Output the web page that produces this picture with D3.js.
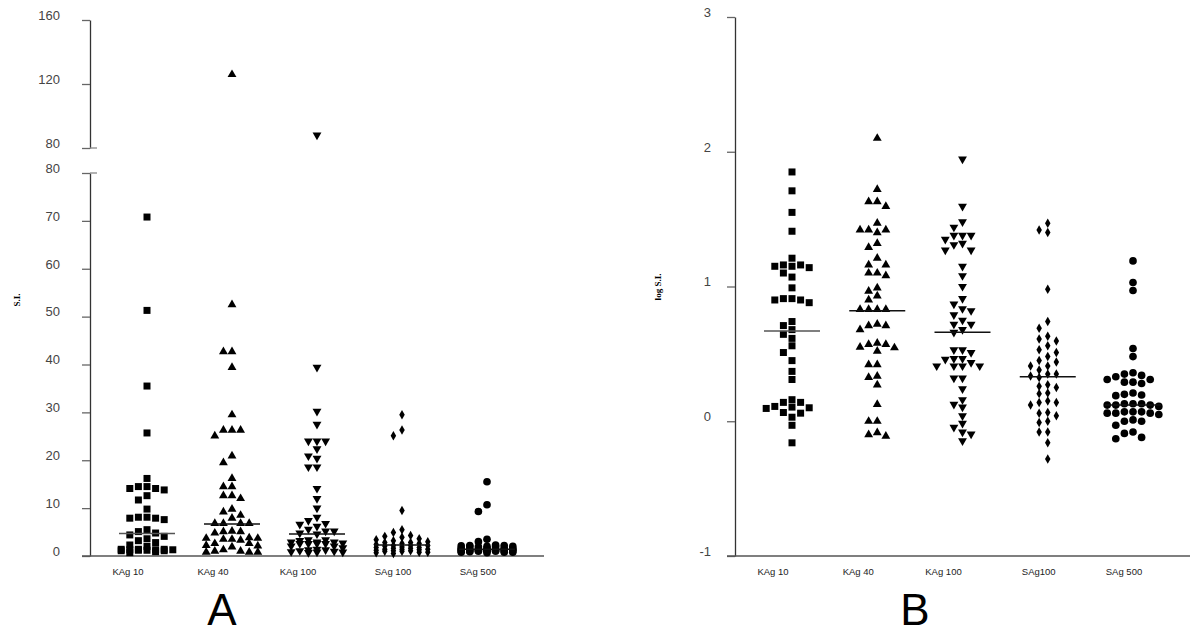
<!DOCTYPE html>
<html>
<head>
<meta charset="utf-8">
<script src="https://cdn.jsdelivr.net/npm/d3@7/dist/d3.min.js"></script>
<style>
  body { margin: 0; background: #fff; }
  svg { display: block; }
  .tick text { font-family: "Liberation Sans", Arial, sans-serif; }
</style>
</head>
<body>
<svg id="chart" width="1200" height="634"></svg>
<script>
// categories and axis labels
const categories = ["KAg 10", "KAg 40", "KAg 100", "SAg 100", "SAg 500"];
const labelsA = ["KAg 10", "KAg 40", "KAg 100", "SAg 100", "SAg 500"];
const labelsB = ["KAg 10", "KAg 40", "KAg 100", "SAg100", "SAg 500"];

// panel A: stimulation index (S.I.)
const siKAg10 = [70.8, 51.3, 35.5, 25.7, 16.2, 14.5, 14.1, 13.8, 14.1, 14.5, 12.6, 11.7, 9.8, 8.1, 7.9, 7.6, 7.9, 8.1,
  5.5, 5.1, 4.8, 4.4, 4.1, 3.6, 3.2, 2.8, 2.3, 2.0, 1.4, 1.4, 1.4, 1.3, 1.3, 1.3, 1.2, 1.2, 1.1, 1.1, 0.9, 0.7];
const siKAg40 = [125.9, 52.5, 42.7, 42.7, 39.4, 29.5, 26.3, 26.3, 25.1, 26.3, 20.9, 19.5, 16.2, 14.5, 14.5, 12.6, 12.0,
  12.6, 9.8, 9.2, 8.5, 7.9, 6.8, 6.8, 6.8, 6.8, 5.1, 4.8, 5.1, 5.2, 3.7, 3.7, 3.5, 3.3, 3.5, 3.8, 2.6, 2.6, 2.2, 2.1,
  1.9, 1.3, 1.0, 1.0, 0.8, 0.8, 0.8];
const siKAg100 = [88.1, 39.4, 30.2, 27.5, 24.0, 24.0, 24.0, 22.4, 20.4, 18.6, 18.6, 20.9, 14.1, 12.0, 10.0, 8.1, 7.4,
  6.6, 6.8, 6.2, 5.6, 5.2, 4.8, 4.6, 5.2, 3.4, 3.4, 3.2, 2.9, 2.9, 2.7, 2.9, 2.6, 2.6, 2.6, 2.6, 2.1, 2.1, 1.7, 1.4,
  1.3, 1.3, 1.1, 1.0, 0.9, 0.8, 0.8, 0.7];
const siSAg100 = [29.5, 25.1, 26.3, 9.5, 5.5, 4.9, 4.3, 4.1, 3.9, 3.6, 3.2, 3.4, 3.0, 2.8, 2.6, 2.8, 2.6, 2.4, 2.2, 2.1,
  2.2, 2.2, 1.8, 1.6, 1.6, 1.8, 1.9, 1.4, 1.3, 1.4, 1.4, 1.2, 1.1, 1.0, 1.1, 1.0, 0.8, 0.8, 0.7, 0.5];
const siSAg500 = [15.5, 10.7, 9.3, 3.5, 3.0, 2.3, 2.2, 2.2, 2.1, 2.0, 1.9, 1.9, 1.9, 2.0, 1.6, 1.5, 1.6, 1.6, 1.3, 1.3,
  1.3, 1.3, 1.3, 1.3, 1.3, 1.2, 1.1, 1.2, 1.1, 1.1, 1.2, 1.1, 1.0, 1.0, 1.0, 0.9, 0.8, 0.8, 0.7, 0.8];
const medianSI = [4.7, 6.7, 4.6, 2.3, 1.4];

// panel B: log S.I.
const logKAg10 = [1.85, 1.71, 1.55, 1.41, 1.21, 1.16, 1.15, 1.14, 1.15, 1.16, 1.10, 1.07, 0.99, 0.91, 0.90, 0.88, 0.90,
  0.91, 0.74, 0.71, 0.68, 0.645, 0.615, 0.56, 0.51, 0.45, 0.37, 0.31, 0.16, 0.14, 0.14, 0.105, 0.10, 0.11, 0.095,
  0.065, 0.06, 0.03, -0.03, -0.16];
const logKAg40 = [2.10, 1.72, 1.63, 1.63, 1.595, 1.47, 1.42, 1.42, 1.40, 1.42, 1.32, 1.29, 1.21, 1.16, 1.16, 1.10, 1.08,
  1.10, 0.99, 0.965, 0.93, 0.90, 0.83, 0.83, 0.83, 0.83, 0.71, 0.68, 0.71, 0.72, 0.57, 0.57, 0.545, 0.52, 0.55, 0.58,
  0.42, 0.42, 0.335, 0.325, 0.27, 0.125, 0.0, 0.0, -0.085, -0.11, -0.10];
const logKAg100 = [1.945, 1.595, 1.48, 1.44, 1.38, 1.38, 1.38, 1.35, 1.31, 1.27, 1.27, 1.32, 1.15, 1.08, 1.00, 0.91,
  0.87, 0.82, 0.835, 0.79, 0.75, 0.72, 0.68, 0.66, 0.72, 0.53, 0.53, 0.51, 0.465, 0.465, 0.435, 0.46, 0.41, 0.41,
  0.41, 0.41, 0.32, 0.32, 0.24, 0.16, 0.125, 0.105, 0.04, -0.015, -0.045, -0.08, -0.095, -0.145];
const logSAg100 = [1.47, 1.40, 1.42, 0.98, 0.74, 0.69, 0.63, 0.61, 0.595, 0.56, 0.51, 0.53, 0.48, 0.45, 0.41, 0.44,
  0.41, 0.38, 0.35, 0.325, 0.335, 0.35, 0.26, 0.21, 0.205, 0.25, 0.27, 0.14, 0.12, 0.14, 0.15, 0.065, 0.04, 0.0,
  0.06, -0.01, -0.08, -0.08, -0.16, -0.28];
const logSAg500 = [1.19, 1.03, 0.97, 0.54, 0.48, 0.36, 0.35, 0.34, 0.33, 0.31, 0.29, 0.28, 0.29, 0.31, 0.20, 0.19,
  0.195, 0.21, 0.13, 0.12, 0.13, 0.12, 0.11, 0.13, 0.12, 0.07, 0.06, 0.07, 0.06, 0.05, 0.07, 0.06, 0.0, 0.0, 0.01,
  -0.03, -0.08, -0.09, -0.13, -0.12];
const medianLog = [0.67, 0.82, 0.66, 0.33, 0.12];

// ticks
const ticksLow = [0, 10, 20, 30, 40, 50, 60, 70, 80];
const ticksHigh = [80, 120, 160];
const ticksLog = [-1, 0, 1, 2, 3];

const seriesSI = [siKAg10, siKAg40, siKAg100, siSAg100, siSAg500];
const seriesLog = [logKAg10, logKAg40, logKAg100, logSAg100, logSAg500];

const symbols = [
  { type: d3.symbolSquare, size: 49, rot: 0 },
  { type: d3.symbolTriangle, size: 34, rot: 0 },
  { type: d3.symbolTriangle, size: 34, rot: 180 },
  { type: d3.symbolDiamond, size: 26, rot: 0 },
  { type: d3.symbolCircle, size: 46, rot: 0 }
];

const svg = d3.select("#chart");
const tickColour = "#666";
const labelColour = "#444";

/**
 * column-style beeswarm: points sit on discrete columns either side of the centre.
 */
var swarm = function(values, yOf, cx, colW, rowH, maxCol) {
  var order = [0];
  for (let k = 1; k <= maxCol; k++) { order.push(-k, k); }
  var placed = [];
  var pts = values.map(v => ({ v: v, y: yOf(v) })).sort((a, b) => a.y - b.y);
  pts.forEach(p => {
    var best = null, bestGap = -1;
    for (const k of order) {
      var gap = d3.min(placed.filter(q => q.k === k), q => Math.abs(q.y - p.y));
      if (gap === undefined) gap = Infinity;
      if (gap >= rowH) { best = k; bestGap = gap; break; }
      if (gap > bestGap) { bestGap = gap; best = k; }
    }
    p.k = best;
    p.x = cx + best * colW;
    placed.push(p);
  });
  return pts;
}

var drawPoints = function(g, series, yOf, xScale, medians) {
  series.forEach((vals, i) => {
    var cx = xScale(categories[i]);
    var sym = symbols[i];
    var pts = swarm(vals, yOf, cx, 8.6, 7.2, 3);
    g.append("g").selectAll("path")
      .data(pts)
      .join("path")
        .attr("d", d3.symbol().type(sym.type).size(sym.size))
        .attr("transform", d => "translate(" + d.x + "," + d.y + ") rotate(" + sym.rot + ")")
        .attr("fill", "#000");
    g.append("line")
      .attr("x1", cx - 28).attr("x2", cx + 28)
      .attr("y1", yOf(medians[i])).attr("y2", yOf(medians[i]))
      .attr("stroke", i === 0 ? "#555" : "#111")
      .attr("stroke-width", 1.5);
  });
}

var styleAxis = function(g) {
  g.select(".domain").attr("stroke", "#333").attr("stroke-width", 1.3);
  g.selectAll(".tick line").attr("stroke", tickColour).attr("stroke-width", 1.3);
  g.selectAll(".tick text").attr("fill", labelColour).attr("font-size", 13).attr("dy", "-0.05em");
}

var drawXLabels = function(g, xScale, labels, y) {
  g.selectAll("text.cat")
    .data(labels)
    .join("text")
      .attr("class", "cat")
      .attr("x", (d, i) => xScale(categories[i]) + (i < 3 ? -19 : -9))
      .attr("y", y)
      .attr("text-anchor", "middle")
      .attr("font-family", "Liberation Sans, Arial, sans-serif")
      .attr("font-size", 9.5)
      .attr("fill", "#222")
      .text(d => d);
}

// ---------- panel A ----------
var gA = svg.append("g");
var yLow = d3.scaleLinear().domain([0, 80]).range([556, 173]);
var yHigh = d3.scaleLinear().domain([80, 160]).range([148, 20]);
var yA = v => v <= 80 ? yLow(v) : yHigh(v);
var xA = d3.scalePoint().domain(categories).range([147, 487]);

gA.append("g")
  .attr("transform", "translate(90,0)")
  .call(d3.axisLeft(yLow).tickValues(ticksLow).tickFormat(d => d).tickSize(8).tickSizeOuter(0).tickPadding(22))
  .call(styleAxis);
gA.append("g")
  .attr("transform", "translate(90,0)")
  .call(d3.axisLeft(yHigh).tickValues(ticksHigh).tickFormat(d => d).tickSize(8).tickSizeOuter(0).tickPadding(22))
  .call(styleAxis);
// break marks
[yLow(80), yHigh(80)].forEach(y => {
  gA.append("line").attr("x1", 90).attr("x2", 97).attr("y1", y).attr("y2", y)
    .attr("stroke", "#888").attr("stroke-width", 1.3);
});
gA.append("line").attr("x1", 82).attr("x2", 544).attr("y1", 556).attr("y2", 556)
  .attr("stroke", "#555").attr("stroke-width", 1.3);

drawPoints(gA, seriesSI, yA, xA, medianSI);
drawXLabels(gA, xA, labelsA, 575);

gA.append("text")
  .attr("transform", "translate(20,300) rotate(-90)")
  .attr("text-anchor", "middle")
  .attr("font-family", "Liberation Serif, serif")
  .attr("font-weight", "bold")
  .attr("font-size", 9)
  .text("S.I.");

gA.append("text")
  .attr("x", 222).attr("y", 625)
  .attr("text-anchor", "middle")
  .attr("font-family", "Liberation Sans, Arial, sans-serif")
  .attr("font-size", 44)
  .text("A");

// ---------- panel B ----------
var gB = svg.append("g");
var yB = d3.scaleLinear().domain([-1, 3]).range([556, 17]);
var xB = d3.scalePoint().domain(categories).range([792, 1133]);

gB.append("g")
  .attr("transform", "translate(735,0)")
  .call(d3.axisLeft(yB).tickValues(ticksLog).tickFormat(d => d).tickSize(8).tickSizeOuter(0).tickPadding(16))
  .call(styleAxis);
gB.append("line").attr("x1", 727).attr("x2", 1190).attr("y1", 556).attr("y2", 556)
  .attr("stroke", "#555").attr("stroke-width", 1.3);

drawPoints(gB, seriesLog, yB, xB, medianLog);
drawXLabels(gB, xB, labelsB, 575);

gB.append("text")
  .attr("transform", "translate(661,287) rotate(-90)")
  .attr("text-anchor", "middle")
  .attr("font-family", "Liberation Serif, serif")
  .attr("font-weight", "bold")
  .attr("font-size", 9)
  .text("log S.I.");

gB.append("text")
  .attr("x", 915).attr("y", 625)
  .attr("text-anchor", "middle")
  .attr("font-family", "Liberation Sans, Arial, sans-serif")
  .attr("font-size", 44)
  .text("B");
</script>
</body>
</html>
